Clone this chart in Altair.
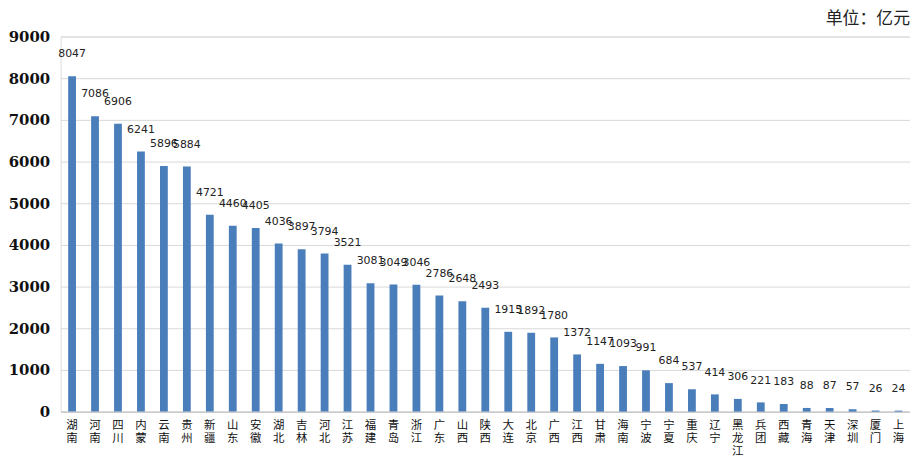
import altair as alt
import pandas as pd

regions = ["湖南", "河南", "四川", "内蒙", "云南", "贵州", "新疆", "山东", "安徽", "湖北",
           "吉林", "河北", "江苏", "福建", "青岛", "浙江", "广东", "山西", "陕西", "大连",
           "北京", "广西", "江西", "甘肃", "海南", "宁波", "宁夏", "重庆", "辽宁", "黑龙江",
           "兵团", "西藏", "青海", "天津", "深圳", "厦门", "上海"]
values = [8047, 7086, 6906, 6241, 5896, 5884, 4721, 4460, 4405, 4036,
          3897, 3794, 3521, 3081, 3049, 3046, 2786, 2648, 2493, 1915,
          1892, 1780, 1372, 1147, 1093, 991, 684, 537, 414, 306,
          221, 183, 88, 87, 57, 26, 24]
y_ticks = [0, 1000, 2000, 3000, 4000, 5000, 6000, 7000, 8000, 9000]

df = pd.DataFrame({"region": regions, "value": values})

x = alt.X("region:N", sort=regions,
          scale=alt.Scale(paddingInner=0.66, paddingOuter=0.33),
          axis=alt.Axis(title=None, labelAngle=0, labelExpr="split(datum.label, '')",
                        labelLineHeight=13, labelFontSize=11.5, labelColor="#111",
                        labelFont="Noto Sans CJK SC", labelPadding=8, ticks=False,
                        domainColor="#bfbfbf", labelBaseline="top"))
y = alt.Y("value:Q", scale=alt.Scale(domain=[0, 9000], nice=False),
          axis=alt.Axis(title=None, values=y_ticks, format="d", grid=True,
                        gridColor="#d9d9d9", domain=False, ticks=False,
                        labelFont="DejaVu Serif", labelFontSize=15,
                        labelFontWeight="bold", labelColor="#111", labelPadding=11))

bars = alt.Chart(df).mark_bar(color="#4a7ebb").encode(x=x, y=y)
labels = alt.Chart(df).mark_text(dy=-22, fontSize=11, font="DejaVu Sans",
                                 color="#222", baseline="middle").encode(
    x=alt.X("region:N", sort=regions), y=alt.Y("value:Q"), text="value:Q")

chart = (bars + labels).properties(
    width=856, height=378,
    title=alt.TitleParams("单位：亿元", anchor="end", fontSize=17, fontWeight="normal",
                          font="Noto Sans CJK SC", color="#222", offset=2),
    padding={"left": 0, "top": 0, "right": 0, "bottom": 0},
).configure_view(stroke=None).configure(background="white")

chart.save("out.html", embed_options={"renderer": "svg", "actions": False})
